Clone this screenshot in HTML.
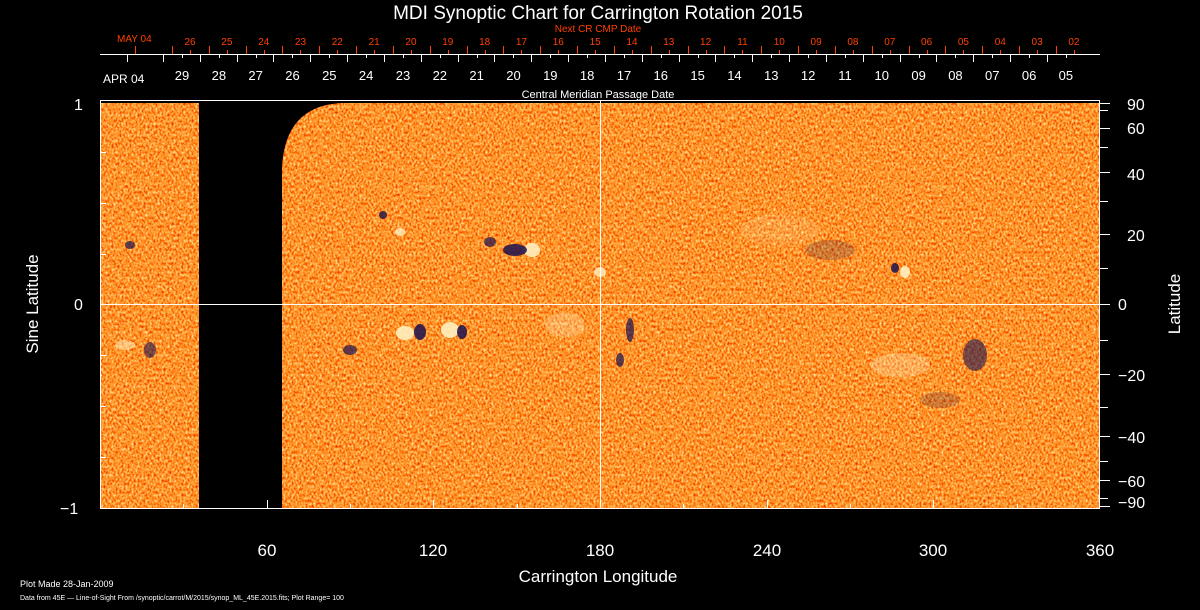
<!DOCTYPE html>
<html><head><meta charset="utf-8"><style>
html,body{margin:0;padding:0;background:#000;width:1200px;height:610px;overflow:hidden}
svg{display:block}
text{font-family:"Liberation Sans",sans-serif}
</style></head><body>
<svg width="1200" height="610" viewBox="0 0 1200 610">
<defs>
<filter id="tex" x="0" y="0" width="100%" height="100%">
<feTurbulence type="fractalNoise" baseFrequency="0.5 0.35" numOctaves="2" seed="7" result="n"/>
<feColorMatrix in="n" type="matrix" values="1 0 0 0 0  1 0 0 0 0  1 0 0 0 0  0 0 0 0 1"/>
<feComponentTransfer>
<feFuncR type="table" tableValues="0.6 0.8 0.95 1 1 1 1"/>
<feFuncG type="table" tableValues="0 0.02 0.12 0.3 0.5 0.8 1"/>
<feFuncB type="table" tableValues="0 0 0 0.02 0.1 0.4 0.8"/>
</feComponentTransfer>
</filter>
<clipPath id="clip">
<rect x="100" y="103" width="99" height="405"/>
<path d="M282 508 L282 170 Q284 104 345 103 L1100 103 L1100 508 Z"/>
</clipPath>
</defs>
<g clip-path="url(#clip)">
<rect x="100" y="100" width="1000" height="410" fill="#f04a10"/>
<rect x="100" y="100" width="1000" height="410" filter="url(#tex)"/>
<g fill="#fff0c0">
<ellipse cx="405" cy="333" rx="9" ry="7" opacity="0.9"/><ellipse cx="450" cy="330" rx="9" ry="8" opacity="0.9"/>
<ellipse cx="532" cy="250" rx="8" ry="7" opacity="0.9"/><ellipse cx="600" cy="272" rx="6" ry="5" opacity="0.8"/>
<ellipse cx="900" cy="365" rx="30" ry="12" opacity="0.3"/><ellipse cx="905" cy="272" rx="5" ry="6" opacity="0.9"/>
<ellipse cx="125" cy="345" rx="10" ry="5" opacity="0.5"/><ellipse cx="400" cy="232" rx="5" ry="4" opacity="0.8"/>
<ellipse cx="565" cy="325" rx="20" ry="12" opacity="0.3"/><ellipse cx="780" cy="230" rx="40" ry="15" opacity="0.15"/>
</g>
<g fill="#1a1050">
<ellipse cx="515" cy="250" rx="12" ry="6" opacity="0.85"/><ellipse cx="420" cy="332" rx="6" ry="8" opacity="0.85"/>
<ellipse cx="462" cy="332" rx="5" ry="7" opacity="0.85"/><ellipse cx="350" cy="350" rx="7" ry="5" opacity="0.7"/>
<ellipse cx="630" cy="330" rx="4" ry="12" opacity="0.7"/><ellipse cx="620" cy="360" rx="4" ry="7" opacity="0.7"/>
<ellipse cx="895" cy="268" rx="4" ry="5" opacity="0.85"/><ellipse cx="975" cy="355" rx="12" ry="16" opacity="0.6"/>
<ellipse cx="150" cy="350" rx="6" ry="8" opacity="0.6"/><ellipse cx="130" cy="245" rx="5" ry="4" opacity="0.7"/>
<ellipse cx="383" cy="215" rx="4" ry="4" opacity="0.8"/><ellipse cx="490" cy="242" rx="6" ry="5" opacity="0.7"/>
<ellipse cx="830" cy="250" rx="25" ry="10" opacity="0.2"/><ellipse cx="940" cy="400" rx="20" ry="8" opacity="0.2"/>
</g>
</g>
<g stroke="#fff" stroke-width="1" fill="none">
<rect x="100.5" y="100.5" width="999" height="408"/>
<line x1="100" y1="304.5" x2="1100" y2="304.5"/>
<line x1="600.5" y1="100" x2="600.5" y2="508"/>
<line x1="100" y1="54.5" x2="1100" y2="54.5"/>
<path d="M100 152.5h6M100 203.5h6M100 254.5h6M100 355.5h6M100 406.5h6M100 457.5h6"/>
<path d="M1100 103.5h10M1100 110.5h8M1100 128.5h10M1100 147.5h8M1100 172.5h10M1100 201.5h8M1100 234.5h10M1100 268.5h8M1100 304.5h10M1100 340.5h8M1100 374.5h10M1100 407.5h8M1100 436.5h10M1100 461.5h8M1100 480.5h10M1100 498.5h8M1100 506.5h10"/>
<path d="M267.5 508v-8M433.5 508v-8M600.5 508v-8M767.5 508v-8M933.5 508v-8M183.5 508v-4M350.5 508v-4M517.5 508v-4M683.5 508v-4M850.5 508v-4M1017.5 508v-4"/>
</g>
<g id="wt" stroke="#fff"></g>
<g id="rt" stroke="#ff4000"></g>
<text x="598" y="19" fill="#fff" font-size="19" text-anchor="middle">MDI Synoptic Chart for Carrington Rotation 2015</text>
<text x="598" y="32" fill="#ff4000" font-size="10" text-anchor="middle">Next CR CMP Date</text>
<text x="598" y="98" fill="#fff" font-size="11" text-anchor="middle">Central Meridian Passage Date</text>
<text x="117" y="42" fill="#ff4000" font-size="10">MAY 04</text>
<text x="103" y="83" fill="#fff" font-size="12">APR 04</text>
<g id="rl" fill="#ff4000" font-size="10" text-anchor="middle"></g>
<g id="wl" fill="#fff" font-size="13" text-anchor="middle"></g>
<g fill="#fff" font-size="16">
<text x="74" y="110">1</text><text x="74" y="310">0</text><text x="60" y="514">−1</text>
<text x="1127" y="110">90</text><text x="1127" y="134">60</text><text x="1127" y="180">40</text><text x="1127" y="241">20</text>
<text x="1118" y="310">0</text><text x="1118" y="381">−20</text><text x="1118" y="443">−40</text><text x="1118" y="487">−60</text><text x="1118" y="508">−90</text>
</g>
<g fill="#fff" font-size="17" text-anchor="middle">
<text x="267" y="556">60</text><text x="433" y="556">120</text><text x="600" y="556">180</text><text x="767" y="556">240</text><text x="933" y="556">300</text><text x="1100" y="556">360</text>
<text x="598" y="582">Carrington Longitude</text>
<text transform="translate(38,304) rotate(-90)">Sine Latitude</text>
<text transform="translate(1180,304) rotate(-90)">Latitude</text>
</g>
<text x="20" y="587" fill="#fff" font-size="9">Plot Made 28-Jan-2009</text>
<text x="20" y="600" fill="#fff" font-size="7">Data from 45E — Line-of-Sight From /synoptic/carrot/M/2015/synop_ML_45E.2015.fits; Plot Range=  100</text>
</svg>
<script>
var ns="http://www.w3.org/2000/svg";
function el(p,t,a,txt){var e=document.createElementNS(ns,t);for(var k in a)e.setAttribute(k,a[k]);if(txt)e.textContent=txt;document.getElementById(p).appendChild(e);}
var s=36.83;
el('rt','line',{x1:135.5,y1:46,x2:135.5,y2:54});
for(var i=0;i<25;i++){var n=26-i;if(n<2)break;var x=190+s*i;
el('rt','line',{x1:Math.round(x-18)+.5,y1:46,x2:Math.round(x-18)+.5,y2:54});
el('rt','line',{x1:Math.round(x)+.5,y1:50,x2:Math.round(x)+.5,y2:54});
el('rl','text',{x:x,y:45},(n<10?'0':'')+n);}
el('wt','line',{x1:127.5,y1:54,x2:127.5,y2:62});
for(var i=0;i<25;i++){var x=182+s*i;var n=29-i;if(n<=0)n+=30;
el('wt','line',{x1:Math.round(x-19)+.5,y1:54,x2:Math.round(x-19)+.5,y2:62});
el('wt','line',{x1:Math.round(x)+.5,y1:54,x2:Math.round(x)+.5,y2:58});
el('wl','text',{x:x,y:80},(n<10?'0':'')+n);}
</script>
</body></html>
